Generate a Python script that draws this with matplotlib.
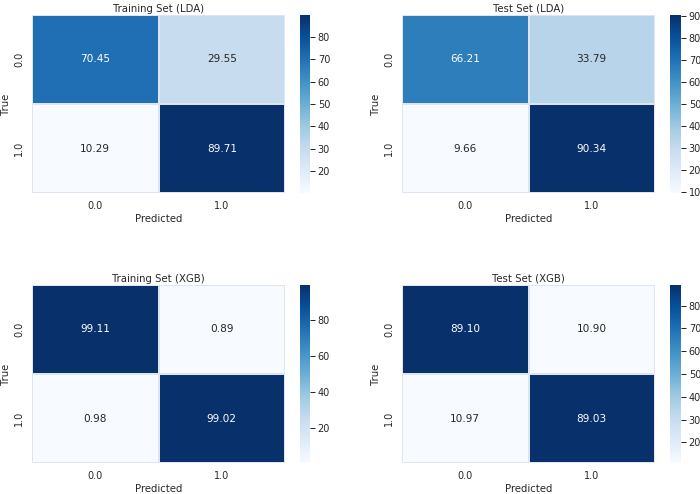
import numpy as np
import matplotlib
matplotlib.use("Agg")
import matplotlib.pyplot as plt
import seaborn as sns

sns.set_theme(rc={"font.size": 13, "axes.titlesize": 12.5, "axes.labelsize": 12.5,
                  "xtick.labelsize": 12, "ytick.labelsize": 12})

labels = ["0.0", "1.0"]
titles = ["Training Set (LDA)", "Test Set (LDA)", "Training Set (XGB)", "Test Set (XGB)"]
train_lda = [[70.45, 29.55], [10.29, 89.71]]
test_lda = [[66.21, 33.79], [9.66, 90.34]]
train_xgb = [[99.11, 0.89], [0.98, 99.02]]
test_xgb = [[89.10, 10.90], [10.97, 89.03]]
matrices = [train_lda, test_lda, train_xgb, test_xgb]

W, H = 700, 494
dpi = 700 / 12
fig = plt.figure(figsize=(W / dpi, H / dpi), dpi=dpi)

# pixel boxes: (left, right, top, bottom) for heatmap, colorbar left/right
hm_boxes = [(32, 285, 15, 193), (402, 655, 15, 193), (32, 285, 285, 463), (402, 655, 285, 463)]
cb_boxes = [(300, 310), (670, 681), (300, 310), (670, 681)]

def px_axes(l, r, t, b):
    return fig.add_axes([l / W, 1 - b / H, (r - l) / W, (b - t) / H])

for mat, title, hb, cb in zip(matrices, titles, hm_boxes, cb_boxes):
    ax = px_axes(*hb)
    cax = px_axes(cb[0], cb[1], hb[2], hb[3])
    sns.heatmap(np.array(mat), annot=True, fmt=".2f", cmap="Blues", ax=ax, cbar_ax=cax,
                xticklabels=labels, yticklabels=labels, linewidths=0.15, linecolor="#dde6f0",
                annot_kws={"size": 13})
    ax.set_title(title, pad=4)
    ax.set_xlabel("Predicted")
    ax.set_ylabel("True")

fig.savefig("out.png", dpi=dpi)
